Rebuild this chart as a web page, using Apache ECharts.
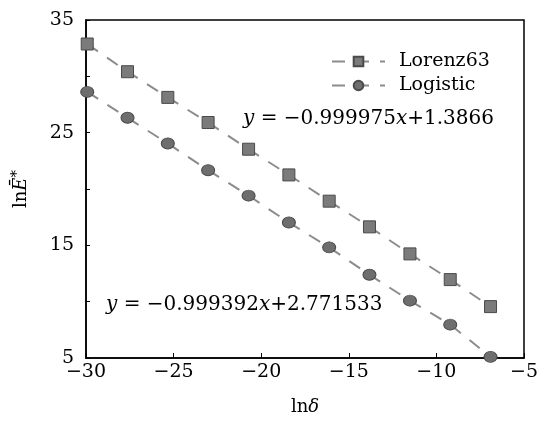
<!DOCTYPE html>
<html>
<head>
<meta charset="utf-8">
<script src="https://cdn.jsdelivr.net/npm/echarts@6/dist/echarts.min.js"></script>
<style>
  html, body { margin: 0; padding: 0; background: #fff; }
  #chart { width: 541px; height: 421px; }
</style>
</head>
<body>
<div id="chart"></div>
<script>
// ln(delta) values
const lnDelta = [-29.93, -27.63, -25.33, -23.03, -20.72, -18.42, -16.12, -13.82, -11.51, -9.21, -6.91]
// ln E* for each system
const lorenz63 = [32.87, 30.41, 28.13, 25.9, 23.53, 21.25, 18.92, 16.64, 14.24, 11.96, 9.56]
const logistic = [28.62, 26.32, 24.04, 21.67, 19.41, 17.02, 14.82, 12.39, 10.09, 7.96, 5.1]
const yTickLabels = [5, 15, 25, 35]
const fitLorenz = 'y = −0.999975x+1.3866'
const fitLogistic = 'y = −0.999392x+2.771533'

const FONT = '"DejaVu Serif", "Liberation Serif", serif'

function pairs (xs, ys) {
  return xs.map((x, i) => [x, ys[i]])
}

// 'y = ...x+...' -> rich text with italic y and x
function eqRich (s) {
  return s.replace(/^y/, '{i|y}').replace(/x\+/, '{i|x}+')
}

const chart = echarts.init(document.getElementById('chart'))

const lineStyle = { color: '#8c8c8c', width: 2, type: [13, 11] }

chart.setOption({
  animation: false,
  backgroundColor: '#fff',
  grid: {
    left: 86,
    right: 17,
    top: 20,
    bottom: 59,
    show: true,
    borderColor: '#000',
    borderWidth: 1.5,
    backgroundColor: 'transparent'
  },
  legend: {
    orient: 'vertical',
    left: 326,
    top: 47,
    itemWidth: 53,
    itemHeight: 12,
    itemGap: 5,
    textStyle: { fontFamily: FONT, fontSize: 19, color: '#000', padding: [0, 0, 0, 9] },
    data: ['Lorenz63', 'Logistic']
  },
  xAxis: {
    type: 'value',
    min: -30,
    max: -5,
    interval: 5,
    name: 'ln{i|δ}',
    nameLocation: 'middle',
    nameGap: 40,
    nameTextStyle: {
      fontFamily: FONT, fontSize: 18, color: '#000',
      rich: { i: { fontFamily: FONT, fontSize: 18, fontStyle: 'italic', color: '#000' } }
    },
    axisLine: { lineStyle: { color: '#000', width: 1.5 } },
    axisTick: { inside: true, length: 5, lineStyle: { color: '#000' } },
    axisLabel: {
      fontFamily: FONT, fontSize: 19, color: '#000', margin: 5,
      formatter: v => String(v).replace('-', '−')
    },
    splitLine: { show: false }
  },
  yAxis: {
    type: 'value',
    min: 5,
    max: 35,
    interval: 5,
    name: 'ln{i|Ē}{s|*}',
    nameLocation: 'middle',
    nameGap: 53,
    nameTextStyle: {
      fontFamily: FONT, fontSize: 18, color: '#000',
      rich: {
        i: { fontFamily: FONT, fontSize: 18, fontStyle: 'italic', color: '#000' },
        s: { fontFamily: FONT, fontSize: 15, color: '#000', verticalAlign: 'top', padding: [0, 0, 8, 0] }
      }
    },
    axisLine: { lineStyle: { color: '#000', width: 1.5 } },
    axisTick: { inside: true, length: 4, lineStyle: { color: '#000' } },
    axisLabel: {
      fontFamily: FONT, fontSize: 19, color: '#000', margin: 12,
      formatter: v => (yTickLabels.includes(v) ? String(v) : '')
    },
    splitLine: { show: false }
  },
  series: [
    {
      name: 'Lorenz63',
      type: 'line',
      data: pairs(lnDelta, lorenz63),
      symbol: 'rect',
      symbolSize: 12,
      lineStyle: lineStyle,
      itemStyle: { color: '#7b7b7b', borderColor: '#4a4a4a', borderWidth: 1 }
    },
    {
      name: 'Logistic',
      type: 'line',
      data: pairs(lnDelta, logistic),
      symbol: 'circle',
      symbolSize: [13, 11],
      lineStyle: lineStyle,
      itemStyle: { color: '#6e6e6e', borderColor: '#4a4a4a', borderWidth: 1 }
    }
  ],
  graphic: [
    {
      type: 'text',
      left: 243,
      top: 109,
      style: {
        text: eqRich(fitLorenz),
        font: '20px ' + FONT,
        fill: '#000',
        rich: { i: { fontFamily: FONT, fontSize: 20, fontStyle: 'italic', fill: '#000' } }
      }
    },
    {
      type: 'text',
      left: 106,
      top: 295,
      style: {
        text: eqRich(fitLogistic),
        font: '20px ' + FONT,
        fill: '#000',
        rich: { i: { fontFamily: FONT, fontSize: 20, fontStyle: 'italic', fill: '#000' } }
      }
    }
  ]
})
</script>
</body>
</html>
